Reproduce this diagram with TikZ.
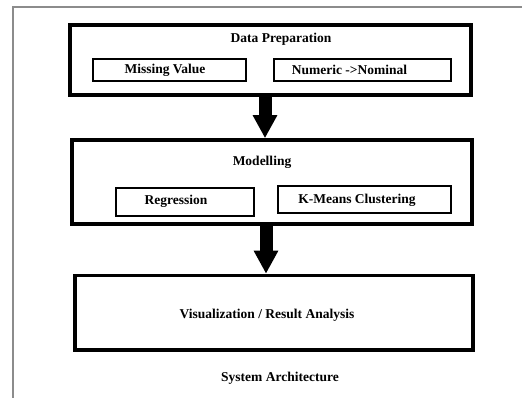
\documentclass[tikz,border=0pt]{standalone}
\usepackage{fontspec}
\setmainfont{Liberation Serif}
\usetikzlibrary{arrows.meta}
\begin{document}
\begin{tikzpicture}[x=1pt,y=-1pt,
  outerbox/.style={draw=black, line width=3.6pt, minimum width=#1},
  innerbox/.style={draw=black, line width=2.4pt, minimum width=#1},
  lbl/.style={font=\fontsize{13.5}{15}\selectfont\bfseries, inner sep=0pt},
  bigarrow/.style={draw=black, line width=13pt,
    -{Triangle[length=23pt, width=23pt]}},
  frameline/.style={draw=black!45, line width=1.1pt}]
\useasboundingbox (0,0) rectangle (522,398);

% page frame
\draw[frameline] (13,398) -- (13,7) -- (522,7);

% stage 1: data preparation
\node[outerbox=401, minimum height=70] (dp) at (270.5,60) {};
\node[lbl] (dpt) at (281,39) {Data Preparation};
\node[innerbox=153, minimum height=22] (mv) at (169.5,70) {};
\node[lbl] (mvt) at (165,70) {Missing Value};
\node[innerbox=177, minimum height=22] (nn) at (362.5,70) {};
\node[lbl] (nnt) at (349.5,70) {Numeric ->Nominal};

% stage 2: modelling
\node[outerbox=400, minimum height=84] (mo) at (272,182) {};
\node[lbl] (mot) at (262,162) {Modelling};
\node[innerbox=138, minimum height=28] (rg) at (185,202) {};
\node[lbl] (rgt) at (176,201) {Regression};
\node[innerbox=173, minimum height=27] (km) at (364.5,199.5) {};
\node[lbl] (kmt) at (357,200) {K-Means Clustering};

% stage 3: visualization
\node[outerbox=398, minimum height=74.5] (va) at (274,312.75) {};
\node[lbl] (vat) at (267,315) {Visualization / Result Analysis};

% caption
\node[lbl] (cap) at (280,378) {System Architecture};

% flow arrows
\coordinate (a1) at (265,0);
\coordinate (a2) at (266,0);
\draw[bigarrow] (dp.south -| a1) -- (mo.north -| a1);
\draw[bigarrow] (mo.south -| a2) -- (va.north -| a2);
\end{tikzpicture}
\end{document}
